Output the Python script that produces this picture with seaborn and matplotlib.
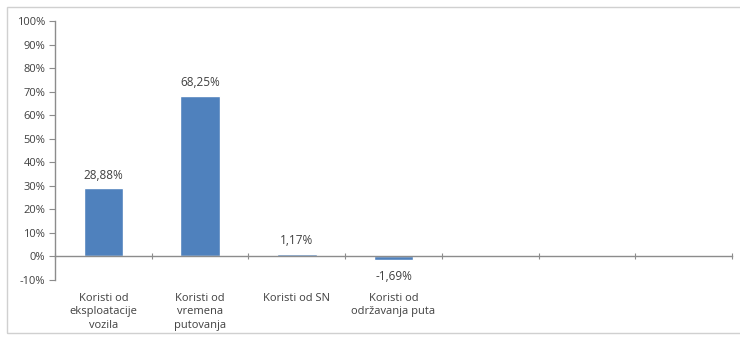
import matplotlib
matplotlib.use("Agg")
import matplotlib.pyplot as plt
from matplotlib.patches import Rectangle
import seaborn as sns
import pandas as pd

categories = [
    "Koristi od\neksploatacije\nvozila",
    "Koristi od\nvremena\nputovanja",
    "Koristi od SN",
    "Koristi od\nodržavanja puta",
]
values = [28.88, 68.25, 1.17, -1.69]
value_labels = ["28,88%", "68,25%", "1,17%", "-1,69%"]
n_slots = 7
y_ticks = list(range(-10, 101, 10))

sns.set_theme(style="white")
plt.rcParams["font.family"] = ["Open Sans", "DejaVu Sans"]

text_color = "#404040"
axis_color = "#8c8c8c"
bar_color = "#4f81bd"

fig = plt.figure(figsize=(7.4, 3.38), dpi=100)
fig.patch.set_facecolor("white")
W, H = 740, 338
ax = fig.add_axes([55 / W, (H - 280) / H, (732 - 55) / W, (280 - 21) / H])

# light frame around the chart area
fig.patches.append(Rectangle((7 / W, 5 / H), 1.2, (333 - 7) / H, transform=fig.transFigure,
                             fill=False, edgecolor="#d0d0d0", linewidth=1.0))

df = pd.DataFrame({"category": categories, "value": values})
sns.barplot(data=df, x="category", y="value", order=categories, color=bar_color,
            saturation=1, width=0.41, ax=ax)

ax.set_xlim(-0.5, n_slots - 0.5)
ax.set_ylim(-10, 100)
ax.set_yticks(y_ticks)
ax.set_yticklabels([f"{t}%" for t in y_ticks], fontsize=8, color=text_color)
ax.set_xlabel("")
ax.set_ylabel("")

for s in ["top", "right"]:
    ax.spines[s].set_visible(False)
ax.spines["left"].set_color(axis_color)
ax.spines["left"].set_linewidth(1.0)
ax.spines["bottom"].set_position(("data", 0))
ax.spines["bottom"].set_color(axis_color)
ax.spines["bottom"].set_linewidth(1.0)

ax.set_xticks([i - 0.5 for i in range(n_slots + 1)])
ax.set_xticklabels([])
ax.tick_params(axis="x", bottom=True, direction="inout", length=5, color=axis_color, width=0.8)
ax.tick_params(axis="y", left=True, direction="out", length=4, color=axis_color, width=0.8, pad=3)

# category names sit below the plot area
for i, name in enumerate(categories):
    ax.text(i, -15.5, name, ha="center", va="top", fontsize=8, color=text_color,
            linespacing=1.3)

# value labels
for i, (v, lab) in enumerate(zip(values, value_labels)):
    if v >= 0:
        ax.annotate(lab, (i, v), xytext=(0, 5), textcoords="offset points",
                    ha="center", va="bottom", fontsize=8.5, color=text_color)
    else:
        ax.annotate(lab, (i, v), xytext=(0, -7), textcoords="offset points",
                    ha="center", va="top", fontsize=8.5, color=text_color)

fig.savefig("out.png", dpi=100, facecolor="white")
